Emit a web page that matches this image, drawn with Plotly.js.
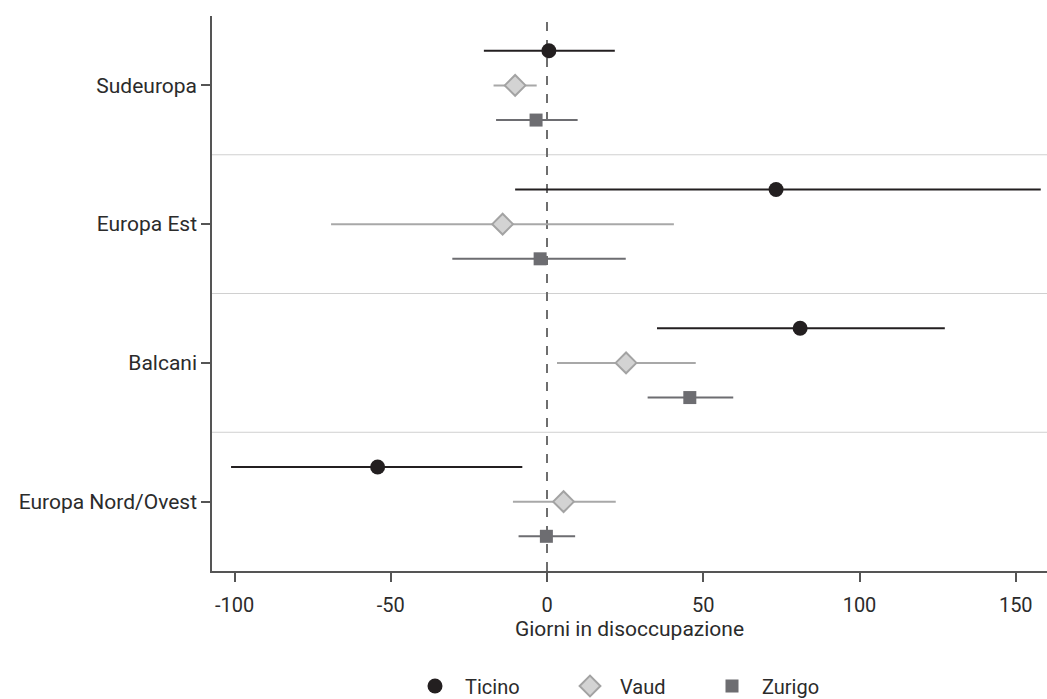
<!DOCTYPE html>
<html>
<head>
<meta charset="utf-8">
<script src="https://cdn.plot.ly/plotly-3.0.1.min.js"></script>
<style>html,body{margin:0;padding:0;background:#fff;}#chart{width:1047px;height:699px;}</style>
</head>
<body>
<div id="chart"></div>
<script>
// Categories, top to bottom
const regions = ["Sudeuropa", "Europa Est", "Balcani", "Europa Nord/Ovest"];
const regionPos = [3, 2, 1, 0];

// Estimates (days in unemployment) with confidence bounds
const ticinoVal  = [0.6, 73.3, 81.0, -54.2];
const ticinoLow  = [-20.2, -10.2, 35.2, -101.1];
const ticinoHigh = [21.7, 158.0, 127.3, -7.9];

const vaudVal  = [-10.2, -14.2, 25.3, 5.3];
const vaudLow  = [-17.1, -69.1, 3.2, -10.9];
const vaudHigh = [-3.3, 40.6, 47.6, 22.0];

const zurigoVal  = [-3.5, -2.2, 45.7, -0.2];
const zurigoLow  = [-16.3, -30.3, 32.2, -9.1];
const zurigoHigh = [9.8, 25.2, 59.6, 9.0];

const xTicks = [-100, -50, 0, 50, 100, 150];
const xTickText = ["-100", "-50", "0", "50", "100", "150"];

const FONT = "Roboto, 'DejaVu Sans', sans-serif";
const FS = 20;

function series(name, vals, lows, highs, offset, marker, lineColor, legendId) {
  return {
    type: "scatter",
    mode: "markers",
    name: name,
    legend: legendId,
    x: vals,
    y: regionPos.map(p => p + offset),
    marker: marker,
    error_x: {
      type: "data",
      symmetric: false,
      array: highs.map((h, i) => h - vals[i]),
      arrayminus: vals.map((v, i) => v - lows[i]),
      color: lineColor,
      thickness: 2,
      width: 0
    },
    hoverinfo: "x+name"
  };
}

const traces = [
  series("Ticino", ticinoVal, ticinoLow, ticinoHigh, 0.25,
    {symbol: "circle", size: 15, color: "#231f20", line: {width: 0}}, "#231f20", "legend"),
  series("Vaud", vaudVal, vaudLow, vaudHigh, 0,
    {symbol: "diamond", size: 16, color: "#d3d3d3", line: {width: 2, color: "#a3a3a3"}}, "#a8a8a8", "legend2"),
  series("Zurigo", zurigoVal, zurigoLow, zurigoHigh, -0.25,
    {symbol: "square", size: 13, color: "#6d6d71", line: {width: 0}}, "#6d6d71", "legend3")
];

const shapes = [0.5, 1.5, 2.5].map(y => ({
  type: "line", xref: "paper", x0: 0, x1: 1, yref: "y", y0: y, y1: y,
  line: {color: "#d0d0d0", width: 1}, layer: "below"
}));
shapes.push({
  type: "line", xref: "x", x0: 0, x1: 0, yref: "paper", y0: 0, y1: 1,
  line: {color: "#6e6e6e", width: 2, dash: "9px,9px"}, layer: "below"
});

function legendAt(px) {
  return {
    orientation: "h", xref: "container", yref: "container",
    x: px / 1047, xanchor: "left", y: 13 / 699, yanchor: "middle",
    font: {family: FONT, size: FS, color: "#2b2b2b"},
    bgcolor: "rgba(0,0,0,0)", borderwidth: 0, itemwidth: 50
  };
}

const layout = {
  width: 1047, height: 699,
  margin: {l: 212, r: 0, t: 16, b: 128},
  paper_bgcolor: "#ffffff", plot_bgcolor: "#ffffff",
  font: {family: FONT, size: FS, color: "#2b2b2b"},
  showlegend: true,
  legend: legendAt(405),
  legend2: legendAt(560),
  legend3: legendAt(702),
  xaxis: {
    range: [-107.2, 160],
    tickvals: xTicks, ticktext: xTickText,
    showgrid: false, zeroline: false,
    showline: true, linecolor: "#555", linewidth: 1.5,
    ticks: "outside", ticklen: 9, tickcolor: "#555", tickwidth: 1.5,
    ticklabelstandoff: 6,
    tickfont: {family: FONT, size: FS, color: "#2b2b2b"},
    title: {text: "Giorni in disoccupazione", font: {family: FONT, size: 21, color: "#2b2b2b"}, standoff: 1}
  },
  yaxis: {
    range: [-0.5, 3.5],
    tickvals: regionPos, ticktext: regions,
    showgrid: false, zeroline: false,
    showline: true, linecolor: "#555", linewidth: 1.5,
    ticks: "outside", ticklen: 9, tickcolor: "#555", tickwidth: 1.5,
    tickfont: {family: FONT, size: 21, color: "#2b2b2b"}
  },
  shapes: shapes
};

Plotly.newPlot("chart", traces, layout, {displayModeBar: false, responsive: false});
</script>
</body>
</html>
